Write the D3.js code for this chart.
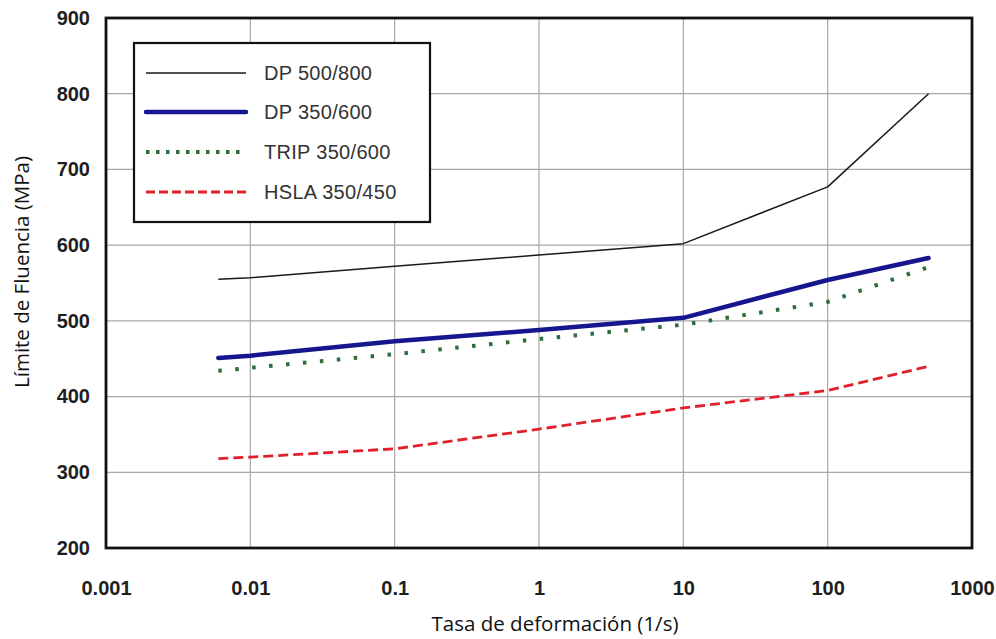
<!DOCTYPE html>
<html><head><meta charset="utf-8">
<script src="https://cdn.jsdelivr.net/npm/d3@7"></script>
<style>body{margin:0;background:#fff}svg{display:block}</style>
</head><body>
<svg id="c" width="996" height="639"></svg>
<script>
const rates = [0.006, 0.01, 0.1, 1, 10, 100, 500];
const dp500 = [555, 557, 572, 587, 602, 677, 800];
const dp350 = [451, 454, 473, 488, 504, 554, 583];
const trip350 = [434, 438, 456, 476, 495, 525, 571];
const hsla350 = [318, 320, 331, 357, 385, 408, 440];
const seriesNames = ["DP 500/800", "DP 350/600", "TRIP 350/600", "HSLA 350/450"];
const xTicks = [0.001, 0.01, 0.1, 1, 10, 100, 1000];
const xTickLabels = ["0.001", "0.01", "0.1", "1", "10", "100", "1000"];
const yTicks = [200, 300, 400, 500, 600, 700, 800, 900];

const svg = d3.select("#c");
const L = 106, R = 972, T = 18, B = 548;
const x = d3.scaleLog().domain([0.001, 1000]).range([L, R]);
const y = d3.scaleLinear().domain([200, 900]).range([B, T]);

// grid
svg.append("g").selectAll("line").data(xTicks.slice(1, -1)).join("line")
  .attr("x1", d => x(d)).attr("x2", d => x(d)).attr("y1", T).attr("y2", B)
  .attr("stroke", "#a8a8a8").attr("stroke-width", 1.2);
svg.append("g").selectAll("line").data(yTicks.slice(1, -1)).join("line")
  .attr("y1", d => y(d)).attr("y2", d => y(d)).attr("x1", L).attr("x2", R)
  .attr("stroke", "#a8a8a8").attr("stroke-width", 1.2);

// axes (labels only)
const xAxis = d3.axisBottom(x).tickValues(xTicks).tickFormat((d, i) => xTickLabels[i]).tickSize(0).tickPadding(33);
const gx = svg.append("g").attr("transform", `translate(0,${B})`).call(xAxis);
gx.select(".domain").remove();
gx.selectAll("text").attr("font-family", "Liberation Sans, Arial, sans-serif").attr("font-size", 20)
  .attr("font-weight", "bold").attr("fill", "#1e1e1e");
const yAxis = d3.axisLeft(y).tickValues(yTicks).tickFormat(d3.format("d")).tickSize(0).tickPadding(16);
const gy = svg.append("g").attr("transform", `translate(${L},0)`).call(yAxis);
gy.select(".domain").remove();
gy.selectAll("text").attr("font-family", "Liberation Sans, Arial, sans-serif").attr("font-size", 20)
  .attr("font-weight", "bold").attr("fill", "#1e1e1e");

// lines
const data = [dp500, dp350, trip350, hsla350];
const styles = [
  {stroke: "#1a1a1a", width: 1.5, dash: null, ldash: null, cap: "butt"},
  {stroke: "#16168f", width: 4.5, dash: null, ldash: null, cap: "round"},
  {stroke: "#2d6f3c", width: 4, dash: "3.5,13.5", ldash: "3.5,6.5", cap: "butt"},
  {stroke: "#e0202a", width: 2.8, dash: "10,5", ldash: "9,4", cap: "butt"}
];
const line = d3.line().x((d, i) => x(rates[i])).y(d => y(d));
const gl = svg.append("g");
data.forEach((vals, k) => {
  const s = styles[k];
  gl.append("path").datum(vals).attr("d", line).attr("fill", "none")
    .attr("stroke", s.stroke).attr("stroke-width", s.width)
    .attr("stroke-dasharray", s.dash).attr("stroke-linecap", s.cap).attr("stroke-linejoin", "round");
});

// frame
svg.append("rect").attr("x", L).attr("y", T).attr("width", R - L).attr("height", B - T)
  .attr("fill", "none").attr("stroke", "#111").attr("stroke-width", 2.8);

// legend
const lg = svg.append("g");
lg.append("rect").attr("x", 134).attr("y", 43).attr("width", 296).attr("height", 179)
  .attr("fill", "#fff").attr("stroke", "#111").attr("stroke-width", 2.2);
const rowY = [73, 112, 152, 192];
seriesNames.forEach((n, k) => {
  const s = styles[k];
  lg.append("line").attr("x1", 146).attr("x2", 246).attr("y1", rowY[k]).attr("y2", rowY[k])
    .attr("stroke", s.stroke).attr("stroke-width", s.width)
    .attr("stroke-dasharray", s.ldash).attr("stroke-linecap", s.cap);
  lg.append("text").attr("x", 264).attr("y", rowY[k]).attr("dy", "0.35em")
    .attr("font-family", "Liberation Sans, Arial, sans-serif").attr("font-size", 20)
    .attr("letter-spacing", "0.3").attr("fill", "#333").text(n);
});

// axis titles
svg.append("text").attr("x", 555).attr("y", 631).attr("text-anchor", "middle")
  .attr("font-family", "Open Sans, Noto Sans, sans-serif").attr("font-size", 20.5).attr("fill", "#111")
  .text("Tasa de deformación (1/s)");
svg.append("text").attr("transform", `translate(29,272) rotate(-90)`).attr("text-anchor", "middle")
  .attr("font-family", "Open Sans, Noto Sans, sans-serif").attr("font-size", 20.5).attr("fill", "#111")
  .text("Límite de Fluencia (MPa)");
</script>
</body></html>
